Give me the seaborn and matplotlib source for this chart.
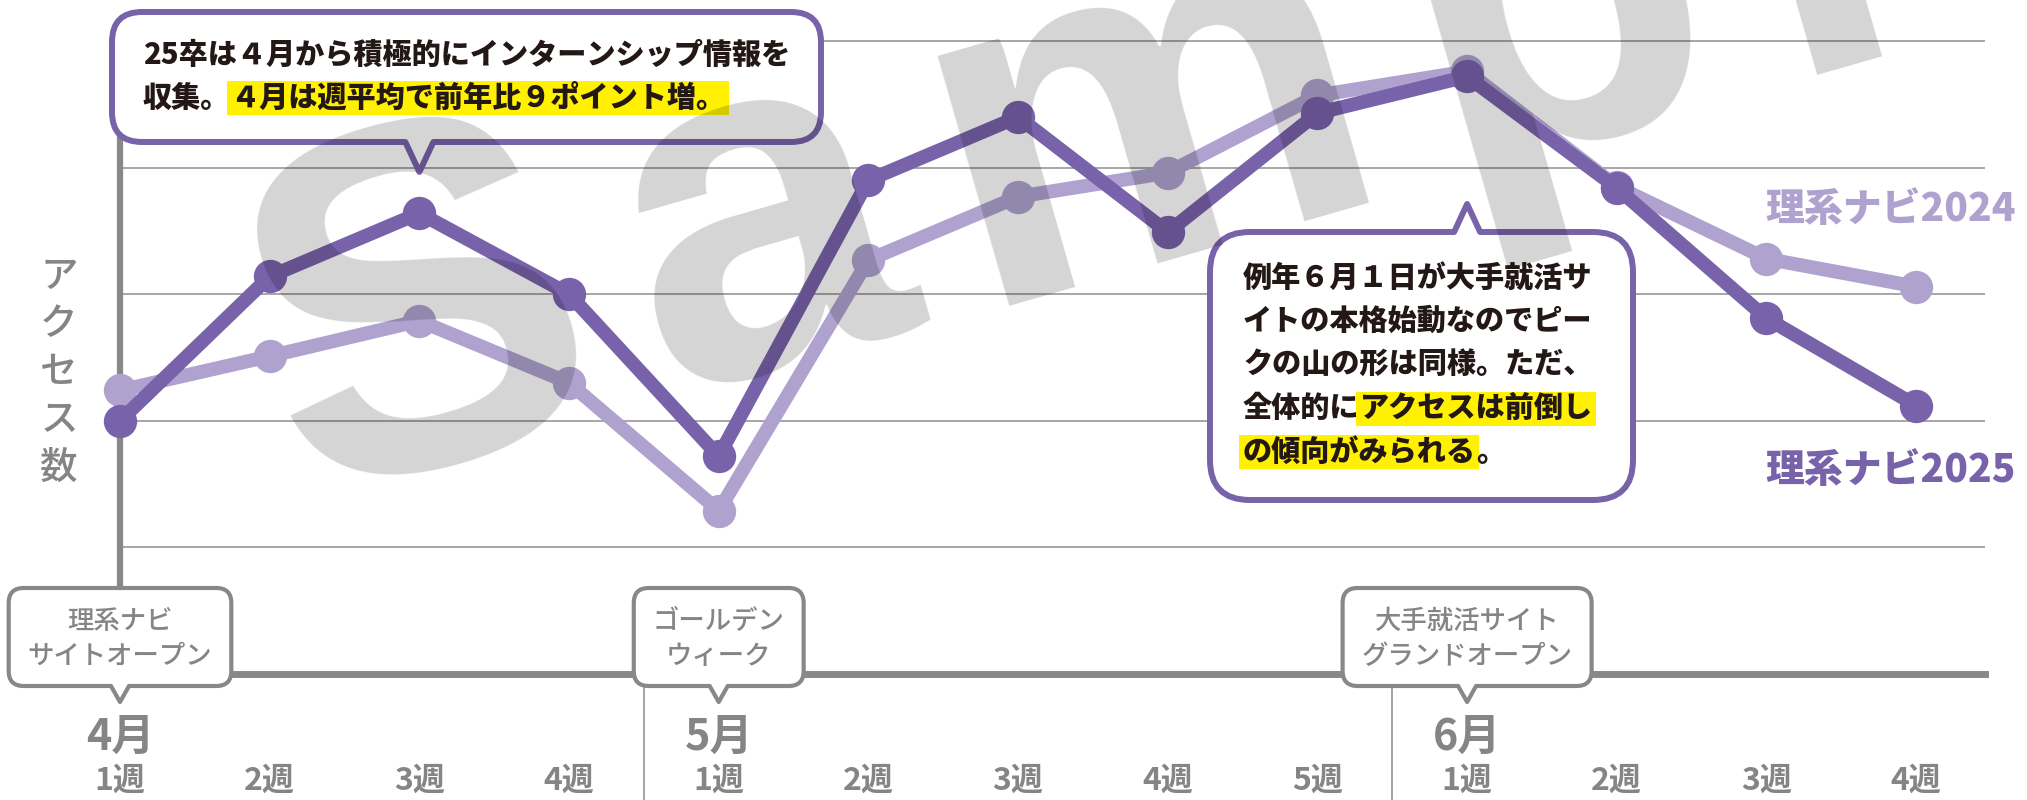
import matplotlib
matplotlib.use("Agg")
import matplotlib.pyplot as plt
import seaborn as sns
import numpy as np
import pandas as pd
from matplotlib.path import Path
from matplotlib.patches import PathPatch, Rectangle

# ---------------- data ----------------
weeks = ["1週", "2週", "3週", "4週", "1週", "2週", "3週", "4週", "5週", "1週", "2週", "3週", "4週"]
months = ["4月", "5月", "6月"]
month_start = [0, 4, 9]
series_names = ["理系ナビ2024", "理系ナビ2025"]
navi2024 = [2.24, 2.51, 2.79, 2.30, 1.29, 3.27, 3.77, 3.96, 4.57, 4.76, 3.85, 3.28, 3.06]
navi2025 = [2.00, 3.14, 3.64, 3.00, 1.72, 3.90, 4.40, 3.49, 4.43, 4.72, 3.84, 2.81, 2.12]
events = ["理系ナビ\nサイトオープン", "ゴールデン\nウィーク", "大手就活サイト\nグランドオープン"]
event_pos = [0, 4, 9]
ylabel = "ア\nク\nセ\nス\n数"
note1 = [[("25卒は４月から積極的にインターンシップ情報を", False)],
         [("収集。", False), ("４月は週平均で前年比９ポイント増。", True)]]
note1_at = 2
note2 = [[("例年６月１日が大手就活サ", False)],
         [("イトの本格始動なのでピー", False)],
         [("クの山の形は同様。ただ、", False)],
         [("全体的に", False), ("アクセスは前倒し", True)],
         [("の傾向がみられる", True), ("。", False)]]
note2_at = 9
watermark = "Sample"

# ---------------- style ----------------
CJK = ["Noto Sans CJK JP", "DejaVu Sans"]
LATIN = ["Liberation Sans", "DejaVu Sans"]
DARK = "#7862AA"
LIGHT = "#AFA2CE"
GRAY_T = "#858585"
GRAY_AX = "#88888B"
GRID = "#A6A6A6"
INK = "#231815"
YEL = "#FFF100"

sns.set_style("white")
plt.rcParams["font.family"] = CJK

W, H = 2027, 800
fig = plt.figure(figsize=(W / 100, H / 100), dpi=100)
fig.patch.set_facecolor("white")

ax_l, ax_r, base_px, unit_px, ytop = 120, 1985, 674, 126.6, 5.1
xmax = 12.46
ax_h = ytop * unit_px
ax = fig.add_axes([ax_l / W, (H - base_px) / H, (ax_r - ax_l) / W, ax_h / H])

df = pd.DataFrame({
    "idx": list(range(len(weeks))) * 2,
    "value": navi2024 + navi2025,
    "series": [series_names[0]] * len(weeks) + [series_names[1]] * len(weeks),
})
sns.lineplot(data=df, x="idx", y="value", hue="series", hue_order=series_names,
             palette={series_names[0]: LIGHT, series_names[1]: DARK},
             marker="o", markersize=24, markeredgewidth=0, linewidth=10,
             legend=False, sort=False, ax=ax)
for ln in ax.lines:
    ln.set_clip_on(False)
    ln.set_zorder(3)
    ln.set_solid_joinstyle("round")

ax.set_xlim(0, xmax)
ax.set_ylim(0, ytop)
ax.set_yticks([1, 2, 3, 4, 5])
ax.yaxis.grid(True, color=GRID, lw=1.4)
ax.xaxis.grid(False)
ax.set_axisbelow(True)
ax.tick_params(axis="y", length=0, labelleft=False)
ax.set_xticks(range(len(weeks)))
ax.set_xticklabels(weeks, fontsize=23, fontweight="bold", color=GRAY_T)
ax.tick_params(axis="x", length=0, pad=65)
ax.set_xlabel("")
ax.set_ylabel("")
for s in ["top", "right"]:
    ax.spines[s].set_visible(False)
ax.spines["bottom"].set_color(GRAY_AX)
ax.spines["bottom"].set_linewidth(5)
ax.spines["left"].set_color(GRAY_AX)
ax.spines["left"].set_linewidth(4.5)
ax.spines["left"].set_zorder(2.5)

below = -(H - base_px) / ax_h
for m, s in zip(months, month_start):
    ax.text(s, -(737 - base_px) / ax_h, m, transform=ax.get_xaxis_transform(),
            ha="center", va="center", fontsize=31, fontweight="bold", color=GRAY_T)
for s in month_start[1:]:
    ax.plot([s - 0.5, s - 0.5], [0, below], transform=ax.get_xaxis_transform(),
            clip_on=False, color="#8C8C8C", lw=1.1, zorder=1)

# ---------------- overlay (pixel coords) ----------------
ov = fig.add_axes([0, 0, 1, 1], zorder=10)
ov.set_xlim(0, W)
ov.set_ylim(H, 0)
ov.axis("off")
ov.patch.set_alpha(0)
renderer = fig.canvas.get_renderer()


def px(i):
    return ax.transData.transform((i, 0))[0]


def callout_path(x0, y0, x1, y1, r, nx, hw, tip, side):
    verts, codes = [], []
    verts.append((x0 + r, y0)); codes.append(Path.MOVETO)
    if side == "top":
        for p in [(nx - hw, y0), (nx, tip), (nx + hw, y0)]:
            verts.append(p); codes.append(Path.LINETO)
    verts.append((x1 - r, y0)); codes.append(Path.LINETO)
    verts += [(x1, y0), (x1, y0 + r)]; codes += [Path.CURVE3, Path.CURVE3]
    verts.append((x1, y1 - r)); codes.append(Path.LINETO)
    verts += [(x1, y1), (x1 - r, y1)]; codes += [Path.CURVE3, Path.CURVE3]
    if side == "bottom":
        for p in [(nx + hw, y1), (nx, tip), (nx - hw, y1)]:
            verts.append(p); codes.append(Path.LINETO)
    verts.append((x0 + r, y1)); codes.append(Path.LINETO)
    verts += [(x0, y1), (x0, y1 - r)]; codes += [Path.CURVE3, Path.CURVE3]
    verts.append((x0, y0 + r)); codes.append(Path.LINETO)
    verts += [(x0, y0), (x0 + r, y0)]; codes += [Path.CURVE3, Path.CURVE3]
    verts.append((x0 + r, y0)); codes.append(Path.CLOSEPOLY)
    return Path(verts, codes)


def draw_note(lines, x0, yc0, pitch, fs):
    em = fs * 100 / 72
    for k, segs in enumerate(lines):
        yc = yc0 + k * pitch
        n = 0
        for txt, hl in segs:
            x = x0 + n * em
            t = ov.text(x, yc, txt, ha="left", va="center", fontsize=fs,
                        fontweight="heavy", color=INK, zorder=5)
            if hl:
                bb = t.get_window_extent(renderer)
                ov.add_patch(Rectangle((x - 4, yc - 17), bb.width + 7, 34,
                                       facecolor=YEL, edgecolor="none", zorder=4))
            n += len(txt)


# note 1 (top-left)
n1x = px(note1_at)
ov.add_patch(PathPatch(callout_path(112, 12, 821, 142, 30, n1x, 14, 172, "bottom"),
                       facecolor="white", edgecolor=DARK, lw=4.3, joinstyle="round", zorder=3))
draw_note(note1, 143, 55, 43, 21)

# note 2 (right)
n2x = px(note2_at)
ov.add_patch(PathPatch(callout_path(1210, 232, 1633, 500, 40, n2x, 13, 204, "top"),
                       facecolor="white", edgecolor=DARK, lw=4.3, joinstyle="round", zorder=3))
draw_note(note2, 1243, 278, 43.5, 21)

# event callouts
for lab, pos in zip(events, event_pos):
    cx = px(pos)
    t = ov.text(cx, 639, lab, ha="center", va="center", fontsize=19, color=GRAY_T,
                fontweight="medium", linespacing=1.36, zorder=5)
    bb = t.get_window_extent(renderer)
    hw = bb.width / 2 + 19
    ov.add_patch(PathPatch(callout_path(cx - hw, 588, cx + hw, 686, 15, cx, 9, 702, "bottom"),
                           facecolor="white", edgecolor=GRAY_AX, lw=3, joinstyle="round", zorder=3))

# y label
ov.text(59, 372, ylabel, ha="center", va="center", fontsize=27, color=GRAY_T,
        fontweight="medium", linespacing=1.33, zorder=5)

# series labels
ov.text(1765, 209, series_names[0], ha="left", va="center", fontsize=28,
        fontweight="heavy", color=LIGHT, zorder=5)
ov.text(1765, 470, series_names[1], ha="left", va="center", fontsize=28,
        fontweight="heavy", color=DARK, zorder=5)

# watermark: letter-spaced, rotated
wm_fs, wm_rot, wm_track = 355, 16, 50
th = np.deg2rad(wm_rot)
px0, py0 = 300, 500
for ch in watermark:
    tmp = ov.text(0, 0, ch, fontsize=wm_fs, family=LATIN, fontweight="bold")
    w = tmp.get_window_extent(renderer).width
    tmp.remove()
    ov.text(px0, py0, ch, fontsize=wm_fs, family=LATIN, fontweight="bold",
            rotation=wm_rot, rotation_mode="anchor", ha="left", va="baseline",
            color="black", alpha=0.17, zorder=20)
    step = w + wm_track
    px0 += step * np.cos(th)
    py0 -= step * np.sin(th)

fig.savefig("out.png", dpi=100, facecolor="white")
